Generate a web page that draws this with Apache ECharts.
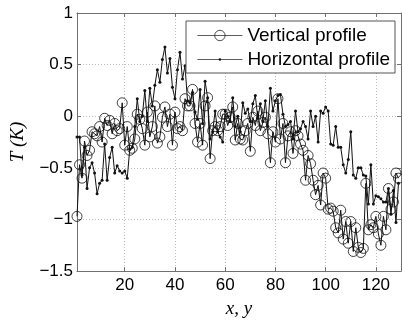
<!DOCTYPE html>
<html>
<head>
<meta charset="utf-8">
<script src="https://cdn.jsdelivr.net/npm/echarts@6/dist/echarts.min.js"></script>
<style>
html, body { margin: 0; padding: 0; background: #fff; }
#profilechart { width: 402px; height: 323px; }
</style>
</head>
<body>
<div id="profilechart"></div>
<script>
// temperature profiles (x = 1..129)
const vertical = [
  -0.97, -0.47, -0.6, -0.24, -0.38, -0.33, -0.15, -0.17, -0.19, -0.1,
  -0.25, -0.02, -0.09, -0.04, -0.17, -0.07, -0.14, -0.12, 0.13, -0.28,
  -0.1, -0.33, -0.31, -0.22, 0.02, -0.03, -0.12, -0.28, 0.04, -0.2,
  -0.1, 0.1, -0.26, -0.2, -0.01, 0.09, -0.1, 0.02, -0.28, 0.04,
  -0.12, -0.1, -0.14, 0.17, 0.1, 0.1, 0.26, -0.07, -0.25, -0.07,
  -0.28, 0.1, 0.18, -0.41, -0.14, -0.1, -0.14, -0.1, 0.02, 0.02,
  -0.09, -0.01, 0.09, -0.23, -0.07, -0.22, -0.23, -0.14, -0.07, -0.34,
  -0.01, -0.09, 0.05, -0.14, -0.06, -0.01, -0.17, -0.45, -0.15, -0.25,
  0.17, -0.22, -0.07, -0.45, -0.19, -0.15, -0.36, -0.14, -0.19, -0.27,
  -0.33, -0.62, -0.38, -0.46, -0.62, -0.76, -0.67, -0.86, -0.55, -0.6,
  -0.9, -0.89, -0.92, -1.08, -1.13, -0.91, -1.19, -1.02, -1.23, -1.02,
  -1.31, -1.08, -1.27, -1.32, -1.28, -0.65, -1.1, -1.05, -1.08, -0.97,
  -1.14, -1.25, -0.97, -1.1, -0.7, -0.9, -0.83, -0.55, -0.6
];
const horizontal = [
  -0.2, -0.2, -0.57, -0.3, -0.7, -0.5, -0.45, -0.55, -0.75, -0.65,
  -0.62, -0.27, -0.62, -0.4, -0.3, -0.55, -0.48, -0.53, -0.55, -0.53,
  -0.6, -0.32, -0.3, -0.1, 0.17, -0.05, 0.0, 0.25, -0.05, 0.27,
  0.1, 0.3, 0.45, 0.33, 0.55, 0.67, 0.42, 0.56, 0.28, 0.17,
  0.45, 0.62, 0.36, 0.49, 0.15, 0.13, 0.23, 0.04, -0.03, 0.26,
  -0.07, 0.34, 0.18, -0.22, -0.15, 0.05, -0.15, -0.2, -0.25, 0.05,
  0.0, -0.05, 0.18, -0.1, 0.0, -0.15, 0.13, 0.03, 0.07, -0.05,
  0.12, 0.2, -0.02, 0.12, -0.05, 0.15, -0.1, 0.27, 0.05, 0.15,
  0.2, 0.21, 0.02, -0.1, -0.08, -0.05, -0.22, 0.05, -0.15, -0.12,
  -0.05, -0.1, -0.22, 0.05, -0.1, 0.0, -0.25, 0.05, 0.03, 0.09,
  0.05, -0.27, -0.28, -0.1, -0.3, -0.3, -0.47, -0.55, -0.42, -0.15,
  -0.57, -0.6, -0.5, -0.5, -0.57, -0.58, -0.85, -0.47, -0.85, -0.77,
  -0.78, -0.8, -0.83, -0.83, -0.7, -0.95, -0.72, -1.03, -0.65
];
const xTicks = [20, 40, 60, 80, 100, 120];
const seriesNames = ["Vertical profile", "Horizontal profile"];

const axisGray = "#707070";
const labelFont = "Liberation Sans, Arial, sans-serif";
const serifFont = "Liberation Serif, Times New Roman, serif";

const toPoints = (vals) => vals.map((v, i) => [i + 1, v]);
const minusFmt = (v) => String(v).replace("-", "\u2212");

let myChart = echarts.init(document.getElementById("profilechart"));

let option = {
  animation: false,
  backgroundColor: "#fff",
  grid: { left: 68, right: 1, top: 13, bottom: 49 },
  graphic: [
    {
      type: "rect",
      z: 10,
      shape: { x: 186, y: 21, width: 209, height: 52 },
      style: { fill: "#fff", stroke: "#555", lineWidth: 1 }
    }
  ],
  legend: [
    {
      data: [seriesNames[0]],
      left: 197, top: 25, padding: 0, z: 20,
      itemWidth: 45, itemHeight: 13,
      lineStyle: { width: 0.8, color: "#333" },
      itemStyle: { borderWidth: 0.8, borderColor: "#222" },
      textStyle: { fontFamily: labelFont, fontSize: 19, color: "#000", lineHeight: 21 }
    },
    {
      data: [seriesNames[1]],
      left: 197, top: 49, padding: 0, z: 20,
      itemWidth: 45, itemHeight: 3,
      lineStyle: { width: 0.8, color: "#333" },
      textStyle: { fontFamily: labelFont, fontSize: 19, color: "#000", lineHeight: 21 }
    }
  ],
  xAxis: [
    {
      type: "value",
      min: 1, max: 130,
      name: "x, y",
      nameLocation: "middle",
      nameGap: 23,
      nameTextStyle: { fontFamily: serifFont, fontStyle: "italic", fontSize: 19, color: "#000" },
      axisLine: { show: true, onZero: false, lineStyle: { color: axisGray, width: 1 } },
      axisTick: { show: true, inside: true, length: 4, customValues: xTicks, lineStyle: { color: axisGray } },
      axisLabel: { customValues: xTicks, margin: 6, fontFamily: labelFont, fontSize: 17, color: "#000" },
      splitLine: { show: true, lineStyle: { type: [1, 2], color: "#bbb" } }
    },
    {
      type: "value",
      position: "top",
      min: 1, max: 130,
      axisLine: { show: true, onZero: false, lineStyle: { color: axisGray, width: 1 } },
      axisTick: { show: true, inside: true, length: 4, customValues: xTicks, lineStyle: { color: axisGray } },
      axisLabel: { show: false },
      splitLine: { show: false }
    }
  ],
  yAxis: [
    {
      type: "value",
      min: -1.5, max: 1, interval: 0.5,
      name: "T (K)",
      nameLocation: "middle",
      nameGap: 50,
      nameTextStyle: { fontFamily: serifFont, fontStyle: "italic", fontSize: 19, color: "#000" },
      axisLine: { show: true, onZero: false, lineStyle: { color: axisGray, width: 1 } },
      axisTick: { show: true, inside: true, length: 4, lineStyle: { color: axisGray } },
      axisLabel: { margin: 4, fontFamily: labelFont, fontSize: 17, color: "#000", formatter: minusFmt },
      splitLine: { show: true, lineStyle: { type: [1, 2], color: "#bbb" } }
    },
    {
      type: "value",
      position: "right",
      min: -1.5, max: 1, interval: 0.5,
      axisLine: { show: true, onZero: false, lineStyle: { color: axisGray, width: 1 } },
      axisTick: { show: true, inside: true, length: 4, lineStyle: { color: axisGray } },
      axisLabel: { show: false },
      splitLine: { show: false }
    }
  ],
  series: [
    {
      name: seriesNames[0],
      type: "line",
      data: toPoints(vertical),
      symbol: "circle",
      symbolSize: 10,
      showAllSymbol: true,
      lineStyle: { color: "#111", width: 1 },
      itemStyle: { color: "rgba(0,0,0,0)", borderColor: "#111", borderWidth: 0.8 }
    },
    {
      name: seriesNames[1],
      type: "line",
      data: toPoints(horizontal),
      symbol: "circle",
      symbolSize: 3,
      showAllSymbol: true,
      lineStyle: { color: "#111", width: 1 },
      itemStyle: { color: "#111", borderWidth: 0 }
    }
  ]
};

option && myChart.setOption(option);
</script>
</body>
</html>
